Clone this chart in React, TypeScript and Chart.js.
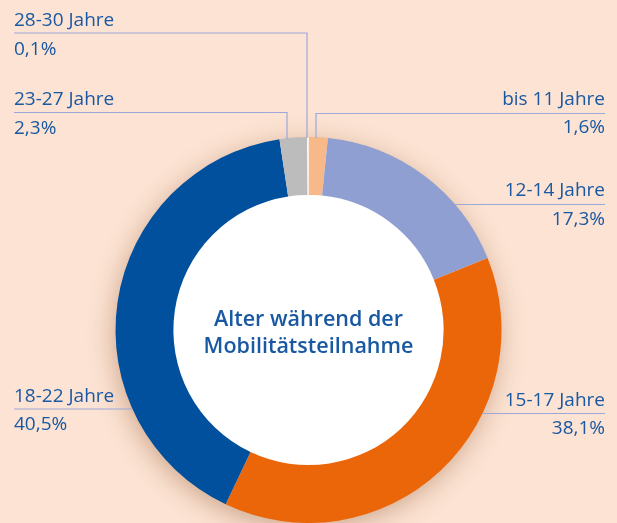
import React, { useEffect, useRef } from "react";
import { Chart, registerables } from "chart.js";

Chart.register(...registerables);

const categories = ["bis 11 Jahre", "12-14 Jahre", "15-17 Jahre", "18-22 Jahre", "23-27 Jahre", "28-30 Jahre"];
const shares = [1.6, 17.3, 38.1, 40.5, 2.3, 0.1];
const sliceColors = ["#f7b98a", "#8f9fd1", "#eb6609", "#00509e", "#bcbcbc", "#ffffff"];
const centerTitle = ["Alter während der", "Mobilitätsteilnahme"];

const BG = "#fce3d3";
const TEXT = "#1958a2";
const LINE = "#9ca8da";
const FONT = "'Open Sans', 'Noto Sans', sans-serif";

// label layout: side, name baseline, leader line y, value baseline, optional vertical drop x
const labelLayout = [
  { side: "right", nameY: 105, lineY: 113.5, valueY: 133, vertX: 316 },
  { side: "right", nameY: 196, lineY: 204.5, valueY: 225 },
  { side: "right", nameY: 406, lineY: 413.5, valueY: 434 },
  { side: "left", nameY: 401.5, lineY: 409, valueY: 430 },
  { side: "left", nameY: 105, lineY: 112.5, valueY: 133.5, vertX: 287 },
  { side: "left", nameY: 26, lineY: 33, valueY: 55, vertX: 307 },
];

const fmt = (v: number) => v.toFixed(1).replace(".", ",") + "%";

const decorPlugin = {
  id: "decor",
  beforeDatasetsDraw(chart: any) {
    const arc = chart.getDatasetMeta(0).data[0];
    if (!arc) return;
    const { x, y, outerRadius } = arc.getProps(["x", "y", "outerRadius"], true);
    const ctx = chart.ctx;
    ctx.save();
    ctx.shadowColor = "rgba(140,80,40,0.42)";
    ctx.shadowBlur = 26;
    ctx.shadowOffsetX = -2;
    ctx.shadowOffsetY = 6;
    ctx.fillStyle = "#ffffff";
    ctx.beginPath();
    ctx.arc(x, y, outerRadius - 1, 0, Math.PI * 2);
    ctx.fill();
    ctx.restore();
  },
  afterDatasetsDraw(chart: any) {
    const arc = chart.getDatasetMeta(0).data[0];
    if (!arc) return;
    const { x: cx, y: cy, outerRadius: R } = arc.getProps(["x", "y", "outerRadius"], true);
    const ctx = chart.ctx;
    const leftX = 14;
    const rightX = 605;
    ctx.save();
    // leader lines
    ctx.strokeStyle = LINE;
    ctx.lineWidth = 1.2;
    labelLayout.forEach((l) => {
      ctx.beginPath();
      if (l.vertX !== undefined) {
        const dx = l.vertX - cx;
        const ringY = cy - Math.sqrt(R * R - dx * dx);
        if (l.side === "left") {
          ctx.moveTo(leftX, l.lineY);
          ctx.lineTo(l.vertX, l.lineY);
        } else {
          ctx.moveTo(rightX, l.lineY);
          ctx.lineTo(l.vertX, l.lineY);
        }
        ctx.lineTo(l.vertX, ringY + 1);
      } else {
        const dy = l.lineY - cy;
        const half = Math.sqrt(R * R - dy * dy);
        if (l.side === "left") {
          ctx.moveTo(leftX, l.lineY);
          ctx.lineTo(cx - half, l.lineY);
        } else {
          ctx.moveTo(rightX, l.lineY);
          ctx.lineTo(cx + half, l.lineY);
        }
      }
      ctx.stroke();
    });
    // texts
    ctx.fillStyle = TEXT;
    ctx.font = `19px ${FONT}`;
    ctx.textBaseline = "alphabetic";
    labelLayout.forEach((l, i) => {
      ctx.textAlign = l.side === "left" ? "left" : "right";
      const tx = l.side === "left" ? leftX : rightX;
      ctx.fillText(categories[i], tx, l.nameY);
      ctx.fillText(fmt(shares[i]), tx, l.valueY);
    });
    // center title
    ctx.font = `600 21.5px ${FONT}`;
    ctx.textAlign = "center";
    ctx.fillText(centerTitle[0], cx, cy - 4.5);
    ctx.fillText(centerTitle[1], cx, cy + 23);
    ctx.restore();
  },
};

export default function App() {
  const ref = useRef<HTMLCanvasElement>(null);
  useEffect(() => {
    document.body.style.margin = "0";
    const chart = new Chart(ref.current as HTMLCanvasElement, {
      type: "doughnut",
      data: {
        labels: categories,
        datasets: [
          {
            data: shares,
            backgroundColor: sliceColors,
            borderWidth: 0,
            hoverOffset: 0,
          },
        ],
      },
      options: {
        responsive: false,
        animation: false,
        cutout: "70%",
        layout: { padding: { left: 115, right: 115, top: 137, bottom: 0 } },
        plugins: { legend: { display: false }, tooltip: { enabled: false } },
      },
      plugins: [decorPlugin],
    });
    return () => chart.destroy();
  }, []);
  return (
    <div style={{ position: "fixed", left: 0, top: 0, width: 617, height: 523, background: BG }}>
      <canvas ref={ref} width={617} height={523} />
    </div>
  );
}
